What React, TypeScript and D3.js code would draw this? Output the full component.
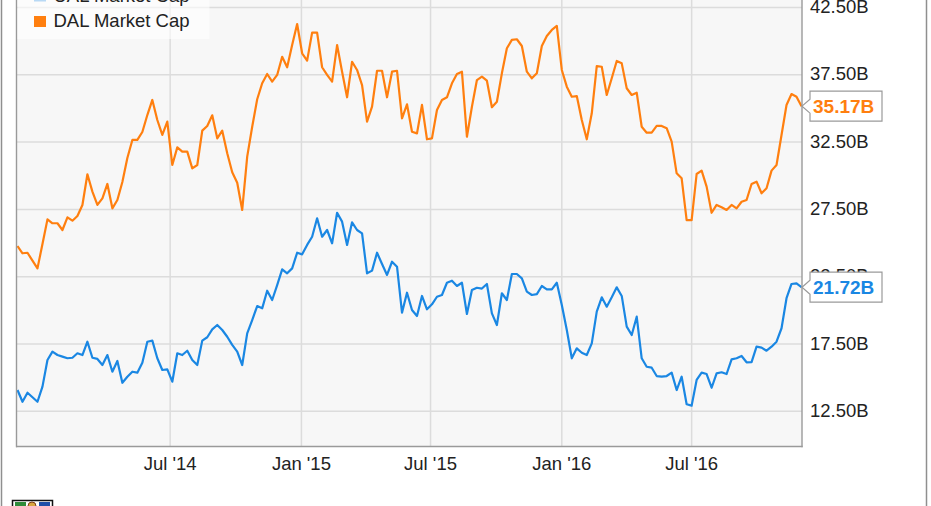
import React from "react";
import * as d3 from "d3";

const START = new Date(2013, 10, 29);

const dalValues = [
  24.78, 24.24, 24.28, 23.69, 23.12, 24.93, 26.76, 26.47, 26.47, 25.97,
  26.91, 26.66, 27.01, 27.83, 30.11, 28.82, 27.83, 28.32, 29.39, 27.58,
  28.2, 29.54, 31.32, 32.66, 32.66, 33.25, 34.51, 35.63, 34.14, 33.03,
  34.02, 30.8, 32.11, 31.79, 31.79, 30.55, 30.8, 33.35, 33.7, 34.49,
  32.78, 33.35, 31.67, 30.26, 29.48, 27.46, 31.42, 33.64, 35.68, 36.87,
  37.56, 36.99, 37.49, 38.84, 38.06, 39.71, 41.27, 39.1, 38.55, 40.63,
  40.63, 38.06, 37.49, 36.99, 39.71, 37.73, 35.83, 38.47, 37.86, 36.74,
  34.02, 35.13, 37.8, 37.8, 35.83, 37.73, 37.8, 34.27, 35.31, 33.27,
  33.15, 35.26, 32.71, 32.78, 34.88, 35.63, 35.83, 36.87, 37.56, 37.73,
  32.9, 35.13, 37.11, 37.36, 37.06, 35.09, 35.5, 37.61, 39.47, 40.09,
  40.14, 39.64, 37.73, 37.24, 37.61, 39.64, 40.38, 40.83, 41.13, 37.86,
  36.62, 35.87, 35.92, 34.14, 32.71, 34.64, 38.15, 38.1, 36.0, 37.24,
  38.53, 38.35, 36.5, 36.0, 36.17, 33.64, 33.2, 33.2, 33.7, 33.7,
  33.53, 32.53, 30.18, 29.81, 26.71, 26.71, 30.13, 30.38, 29.19, 27.25,
  27.83, 27.66, 27.46, 27.83, 27.58, 28.07, 28.2, 29.39, 29.56, 28.7,
  29.07, 30.38, 30.8, 33.03, 35.26, 36.07, 35.87, 35.17,
];

const ualValues = [
  14.08, 13.21, 13.88, 13.54, 13.21, 14.33, 16.31, 16.93, 16.68, 16.56,
  16.44, 16.48, 16.81, 16.68, 17.67, 16.48, 16.39, 15.94, 16.68, 15.44,
  16.24, 14.62, 15.07, 15.44, 15.37, 16.11, 17.67, 17.75, 16.44, 15.57,
  15.62, 14.7, 16.81, 16.68, 17.0, 16.31, 15.94, 17.75, 18.0, 18.59,
  18.91, 18.54, 18.04, 17.43, 16.93, 15.94, 18.29, 19.28, 20.32, 20.15,
  21.46, 20.77, 21.88, 23.05, 22.75, 23.12, 24.28, 24.16, 24.86, 25.47,
  26.84, 25.47, 25.97, 24.98, 27.25, 26.59, 24.86, 26.54, 25.97, 25.72,
  22.75, 22.95, 24.28, 23.44, 22.63, 23.61, 23.24, 19.83, 21.31, 20.03,
  19.58, 21.07, 20.08, 20.45, 21.01, 21.14, 22.05, 22.2, 21.81, 22.05,
  19.73, 21.51, 21.68, 21.62, 21.96, 19.78, 18.91, 21.27, 20.77, 22.7,
  22.7, 22.38, 21.39, 21.14, 21.21, 21.81, 21.56, 21.56, 22.05, 20.4,
  18.54, 16.44, 17.18, 16.85, 16.68, 17.55, 19.9, 20.97, 20.27, 20.97,
  21.71, 21.07, 18.79, 18.17, 19.53, 16.44, 15.81, 15.74, 15.12, 15.07,
  15.12, 15.37, 14.08, 15.07, 13.02, 12.92, 14.83, 15.37, 15.27, 14.25,
  15.32, 15.4, 15.27, 16.36, 16.44, 16.61, 16.14, 16.16, 17.3, 17.23,
  17.0, 17.3, 17.67, 18.67, 20.9, 21.96, 22.01, 21.72,
];

const yTicks = [12.5, 17.5, 22.5, 27.5, 32.5, 37.5, 42.5];
const xTickDates = [
  new Date(2014, 6, 1),
  new Date(2015, 0, 1),
  new Date(2015, 6, 1),
  new Date(2016, 0, 1),
  new Date(2016, 6, 1),
];
const xTickLabels = ["Jul '14", "Jan '15", "Jul '15", "Jan '16", "Jul '16"];
const seriesNames = ["UAL Market Cap", "DAL Market Cap"];

const ORANGE = "#ff7f0f";
const BLUE = "#1a87e3";
const FONT = "'Liberation Sans', Arial, sans-serif";

export default function App() {
  const W = 931;
  const H = 506;
  const plotL = 17;
  const plotR = 802;
  const plotB = 446.5;

  const dates = dalValues.map((_, i) => d3.timeWeek.offset(START, i));
  const x = d3
    .scaleTime()
    .domain([dates[0], dates[dates.length - 1]])
    .range([17.5, 801.5]);
  const y = d3.scaleLinear().domain([12.5, 42.5]).range([411.3, 7.5]);

  const line = d3
    .line<number>()
    .x((_, i) => x(dates[i]))
    .y((d) => y(d));

  const fmt = d3.format(".2f");

  const endBox = (v: number, color: string) => {
    const cy = y(v);
    const top = cy - 15;
    const bot = cy + 15;
    const p = `M${plotR},${cy} L810,${cy - 7} L810,${top} L882,${top} L882,${bot} L810,${bot} L810,${cy + 7} Z`;
    return (
      <g>
        <path d={p} fill="#fff" stroke="#9a9a9a" strokeWidth={1.2} />
        <text
          x={813}
          y={cy + 6.8}
          fill={color}
          fontWeight="bold"
          fontSize={19}
          fontFamily={FONT}
        >
          {fmt(v)}B
        </text>
      </g>
    );
  };

  return (
    <svg
      width={W}
      height={H}
      style={{ position: "absolute", left: 0, top: 0, display: "block", background: "#fff" }}
    >
      <defs>
        <clipPath id="plotclip">
          <rect x={plotL} y={0} width={plotR - plotL} height={plotB} />
        </clipPath>
      </defs>
      <rect x={0} y={0} width={W} height={H} fill="#fff" />
      {/* outer frame */}
      <line x1={1.5} y1={0} x2={1.5} y2={H} stroke="#8f8f8f" strokeWidth={1.5} />
      <line x1={926.5} y1={0} x2={926.5} y2={H} stroke="#8f8f8f" strokeWidth={1.5} />

      {/* plot background */}
      <rect x={plotL} y={0} width={plotR - plotL} height={plotB} fill="#f7f7f7" />

      {/* grid */}
      {yTicks.map((t) => (
        <line
          key={"gy" + t}
          x1={plotL}
          x2={plotR}
          y1={y(t)}
          y2={y(t)}
          stroke="#dcdcdc"
          strokeWidth={1.5}
        />
      ))}
      {xTickDates.map((d, i) => (
        <line
          key={"gx" + i}
          x1={x(d)}
          x2={x(d)}
          y1={0}
          y2={plotB}
          stroke="#dcdcdc"
          strokeWidth={1.5}
        />
      ))}

      {/* lines */}
      <g clipPath="url(#plotclip)">
        <path d={line(ualValues) || ""} fill="none" stroke={BLUE} strokeWidth={2.2} strokeLinejoin="round" />
        <path d={line(dalValues) || ""} fill="none" stroke={ORANGE} strokeWidth={2.2} strokeLinejoin="round" />
      </g>

      {/* plot borders */}
      <line x1={16.5} y1={0} x2={16.5} y2={plotB + 0.7} stroke="#9a9a9a" strokeWidth={1.4} />
      <line x1={plotR} y1={0} x2={plotR} y2={plotB + 0.7} stroke="#9a9a9a" strokeWidth={1.4} />
      <line x1={16} y1={plotB} x2={plotR + 0.7} y2={plotB} stroke="#9a9a9a" strokeWidth={1.4} />

      {/* legend */}
      <rect x={17.5} y={0} width={192} height={39} fill="#ffffff" opacity={0.6} />
      <rect x={34} y={-9.5} width={12} height={11} fill={BLUE} opacity={0.3} />
      <text x={53.5} y={1.6} fontSize={18.5} fontFamily={FONT} fill="#222">
        {seriesNames[0]}
      </text>
      <rect x={34} y={16} width={12} height={11} fill={ORANGE} />
      <text x={53.5} y={27.3} fontSize={18.5} fontFamily={FONT} fill="#222">
        {seriesNames[1]}
      </text>

      {/* y axis labels */}
      {yTicks.map((t) => (
        <text
          key={"yl" + t}
          x={810}
          y={y(t) + 5.5}
          fontSize={18.5}
          fontFamily={FONT}
          fill="#222"
        >
          {fmt(t)}B
        </text>
      ))}

      {/* x axis labels */}
      {xTickDates.map((d, i) => (
        <text
          key={"xl" + i}
          x={x(d)}
          y={470}
          textAnchor="middle"
          fontSize={18.5}
          fontFamily={FONT}
          fill="#222"
        >
          {xTickLabels[i]}
        </text>
      ))}

      {/* end labels */}
      {endBox(dalValues[dalValues.length - 1], ORANGE)}
      {endBox(ualValues[ualValues.length - 1], BLUE)}

      {/* logo fragment */}
      <g>
        <rect x={12.5} y={500.5} width={40} height={10} fill="#fff" stroke="#111" strokeWidth={1.5} />
        <rect x={15} y={502} width={11} height={6} fill="#2e8b3a" />
        <circle cx={32} cy={506} r={4} fill="#d9a640" stroke="#7a3b1b" strokeWidth={1} />
        <rect x={39} y={502} width={11} height={6} fill="#1f4fa8" />
      </g>
    </svg>
  );
}
